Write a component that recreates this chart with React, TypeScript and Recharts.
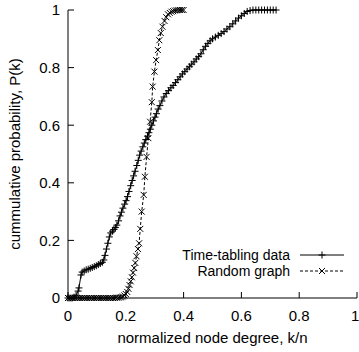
import React from 'react';
import { LineChart, Line, XAxis, YAxis, Legend } from 'recharts';

// normalized node degree k/n and cumulative probability P(k)
const ttX = [
  0, 0.007, 0.014, 0.021, 0.028, 0.035, 0.038, 0.045, 0.049, 0.056, 0.063, 0.07, 0.077, 0.084,
  0.091, 0.098, 0.105, 0.112, 0.119, 0.124, 0.128, 0.133, 0.138, 0.143, 0.148, 0.154, 0.159,
  0.164, 0.169, 0.175, 0.18, 0.185, 0.19, 0.196, 0.201, 0.206, 0.211, 0.217, 0.222, 0.227,
  0.232, 0.238, 0.243, 0.248, 0.253, 0.259, 0.264, 0.269, 0.275, 0.28, 0.285, 0.29, 0.296,
  0.301, 0.306, 0.312, 0.318, 0.325, 0.332, 0.34, 0.348, 0.356, 0.364, 0.372, 0.38, 0.388,
  0.396, 0.404, 0.412, 0.42, 0.428, 0.436, 0.444, 0.452, 0.46, 0.468, 0.476, 0.484, 0.492,
  0.5, 0.51, 0.52, 0.53, 0.54, 0.55, 0.56, 0.57, 0.58, 0.59, 0.6, 0.61, 0.62, 0.63, 0.64,
  0.65, 0.66, 0.67, 0.68, 0.69, 0.7, 0.71, 0.72,
];
const ttY = [
  0, 0, 0, 0.003, 0.01, 0.024, 0.035, 0.08, 0.09, 0.094, 0.098, 0.1, 0.103, 0.106,
  0.109, 0.112, 0.116, 0.12, 0.124, 0.132, 0.148, 0.17, 0.19, 0.212, 0.226, 0.232, 0.238,
  0.245, 0.253, 0.268, 0.285, 0.298, 0.312, 0.326, 0.338, 0.352, 0.37, 0.39, 0.408, 0.424,
  0.44, 0.46, 0.478, 0.496, 0.51, 0.525, 0.538, 0.55, 0.562, 0.574, 0.586, 0.6, 0.615,
  0.628, 0.64, 0.656, 0.668, 0.684, 0.698, 0.71, 0.72, 0.73, 0.738, 0.748, 0.758, 0.768,
  0.778, 0.786, 0.795, 0.803, 0.812, 0.82, 0.83, 0.838, 0.848, 0.862, 0.874, 0.884, 0.893,
  0.9, 0.906, 0.912, 0.918, 0.925, 0.934, 0.942, 0.952, 0.962, 0.972, 0.98, 0.988, 0.995, 0.998, 1,
  1, 1, 1, 1, 1, 1, 1, 1,
];

const rgX = [
  0, 0.006, 0.012, 0.018, 0.024, 0.03, 0.036, 0.042, 0.048, 0.054, 0.06, 0.066, 0.072, 0.078,
  0.084, 0.09, 0.096, 0.102, 0.108, 0.114, 0.12, 0.126, 0.132, 0.138, 0.144, 0.15, 0.156,
  0.162, 0.168, 0.174, 0.18, 0.185, 0.19, 0.195, 0.2, 0.205, 0.209, 0.213, 0.217, 0.221,
  0.225, 0.229, 0.233, 0.237, 0.242, 0.246, 0.25, 0.255, 0.262, 0.266, 0.272, 0.278, 0.284,
  0.29, 0.293, 0.299, 0.305, 0.311, 0.316, 0.321, 0.327, 0.334, 0.34, 0.346, 0.352, 0.358,
  0.364, 0.37, 0.376, 0.382, 0.388, 0.394, 0.4,
];
const rgY = [
  0, 0, 0, 0, 0, 0, 0, 0, 0, 0, 0, 0, 0, 0,
  0, 0, 0, 0, 0, 0, 0, 0, 0, 0, 0, 0, 0,
  0, 0.001, 0.001, 0.002, 0.003, 0.005, 0.009, 0.014, 0.021, 0.032, 0.045, 0.058, 0.072,
  0.088, 0.104, 0.122, 0.145, 0.17, 0.19, 0.24, 0.3, 0.358, 0.421, 0.49, 0.555, 0.612,
  0.68, 0.734, 0.786, 0.826, 0.861, 0.895, 0.92, 0.942, 0.962, 0.975, 0.985, 0.99, 0.994,
  0.996, 0.998, 0.999, 1, 1, 1, 1,
];

const ticks = [0, 0.2, 0.4, 0.6, 0.8, 1];

const timeTabling = ttX.map((x, i) => ({ x, y: ttY[i] }));
const randomGraph = rgX.map((x, i) => ({ x, y: rgY[i] }));

const FONT = '"Liberation Sans", Arial, Helvetica, sans-serif';
const INK = '#000';

const PlusDot = (props: any) => {
  const { cx, cy, index } = props;
  if (cx == null || cy == null) return <g key={index} />;
  return <path key={index} d={`M${cx - 3.5},${cy}h7M${cx},${cy - 3.5}v7`} stroke={INK} strokeWidth={1} fill="none" />;
};

const CrossDot = (props: any) => {
  const { cx, cy, index } = props;
  if (cx == null || cy == null) return <g key={index} />;
  return (
    <path key={index} d={`M${cx - 3},${cy - 3}l6,6M${cx - 3},${cy + 3}l6,-6`} stroke={INK} strokeWidth={1} fill="none" />
  );
};

const XTitle = ({ viewBox }: any) => (
  <text x={viewBox.x + viewBox.width / 2} y={viewBox.y + viewBox.height - 9} textAnchor="middle"
    fontFamily={FONT} fontSize={15} fill={INK}>
    normalized node degree, k/n
  </text>
);

const YTitle = ({ viewBox }: any) => {
  const cx = 20;
  const cy = viewBox.y + viewBox.height / 2;
  return (
    <text x={cx} y={cy} transform={`rotate(-90 ${cx} ${cy})`} textAnchor="middle"
      fontFamily={FONT} fontSize={15} fill={INK}>
      cummulative probability, P(k)
    </text>
  );
};

const legendRows = [
  { name: 'Time-tabling data', dash: undefined, mark: 'plus' },
  { name: 'Random graph', dash: '3 2', mark: 'cross' },
];

const renderLegend = () => (
  <div style={{ fontFamily: FONT, fontSize: 14, color: INK, lineHeight: '16px' }}>
    {legendRows.map((r) => (
      <div key={r.name} style={{ display: 'flex', alignItems: 'center', height: 16 }}>
        <span style={{ width: 140, textAlign: 'right', whiteSpace: 'nowrap' }}>{r.name}</span>
        <svg width={54} height={16} style={{ marginLeft: 10 }}>
          <line x1={0} x2={44} y1={8} y2={8} stroke={INK} strokeWidth={1} strokeDasharray={r.dash} />
          {r.mark === 'plus' ? <PlusDot cx={22} cy={8} index={0} /> : <CrossDot cx={22} cy={8} index={0} />}
        </svg>
      </div>
    ))}
  </div>
);

export default function App() {
  return (
    <div style={{ position: 'absolute', left: 0, top: 0, width: 359, height: 352, background: '#fff' }}>
      <LineChart width={359} height={352} margin={{ top: 10, right: 2, left: 0, bottom: 0 }}>
        <XAxis dataKey="x" type="number" domain={[0, 1]} ticks={ticks} height={54}
          allowDuplicatedCategory={false}
          tick={{ fontFamily: FONT, fontSize: 15, fill: INK }} tickSize={-6} tickMargin={18}
          axisLine={{ stroke: INK }} tickLine={{ stroke: INK }} label={<XTitle />} />
        <XAxis xAxisId="top" orientation="top" type="number" domain={[0, 1]} ticks={ticks} height={0}
          tick={false} tickSize={-6} axisLine={{ stroke: INK }} tickLine={{ stroke: INK }} />
        <YAxis dataKey="y" type="number" domain={[0, 1]} ticks={ticks} width={68}
          tick={{ fontFamily: FONT, fontSize: 15, fill: INK }} tickSize={-6} tickMargin={14}
          axisLine={{ stroke: INK }} tickLine={{ stroke: INK }} label={<YTitle />} />
        <YAxis yAxisId="right" orientation="right" type="number" domain={[0, 1]} ticks={ticks} width={0}
          tick={false} tickSize={-6} axisLine={{ stroke: INK }} tickLine={{ stroke: INK }} />
        <Line data={timeTabling} dataKey="y" name="Time-tabling data" stroke={INK} strokeWidth={1}
          dot={PlusDot} activeDot={false} isAnimationActive={false} />
        <Line data={randomGraph} dataKey="y" name="Random graph" stroke={INK} strokeWidth={1}
          strokeDasharray="3 2" dot={CrossDot} activeDot={false} isAnimationActive={false} />
        <Legend layout="horizontal" verticalAlign="middle" align="center" content={renderLegend}
          wrapperStyle={{ position: 'absolute', left: 150, top: 247, width: 210 }} />
      </LineChart>
    </div>
  );
}
